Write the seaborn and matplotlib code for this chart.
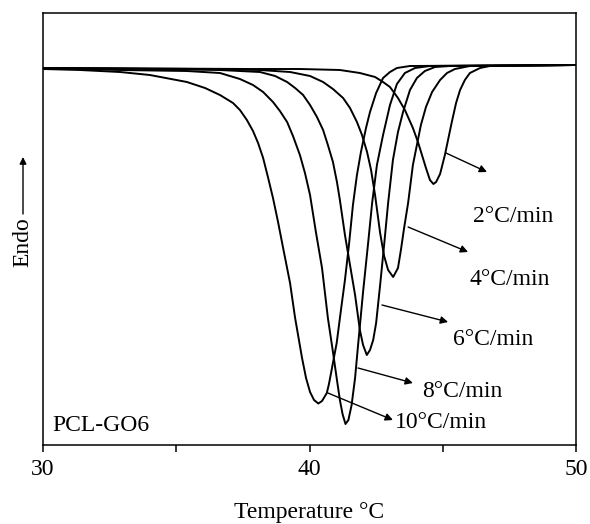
import numpy as np
import pandas as pd
import matplotlib
matplotlib.use("Agg")
import matplotlib.pyplot as plt
from matplotlib.ticker import FixedLocator
import seaborn as sns

# ---- data (temperature in °C, heat flow in arbitrary units, endo up) ----
rates = ["10°C/min", "8°C/min", "6°C/min", "4°C/min", "2°C/min"]

t_10 = [30.00, 31.39, 32.89, 34.01, 35.40, 36.08, 36.64, 37.13, 37.39, 37.65, 37.88, 38.07,
        38.26, 38.44, 38.63, 38.82, 39.01, 39.27, 39.46, 39.72, 39.87, 40.02, 40.17, 40.33,
        40.47, 40.65, 40.73, 40.83, 41.02, 41.18, 41.33, 41.48, 41.63, 41.78, 41.93, 42.12,
        42.27, 42.50, 42.76, 43.02, 43.28, 43.77, 50.00]
h_10 = [-0.04, -0.05, -0.07, -0.10, -0.17, -0.23, -0.30, -0.38, -0.45, -0.55, -0.66, -0.78,
        -0.93, -1.12, -1.33, -1.57, -1.83, -2.18, -2.53, -2.93, -3.13, -3.27, -3.35, -3.385,
        -3.36, -3.28, -3.19, -3.05, -2.78, -2.45, -2.15, -1.80, -1.40, -1.10, -0.87, -0.63,
        -0.47, -0.28, -0.13, -0.07, -0.03, -0.01, 0.00]

t_8 = [30.00, 32.89, 35.40, 36.64, 37.39, 37.88, 38.26, 38.63, 38.89, 39.16, 39.38, 39.64,
       39.83, 40.02, 40.24, 40.47, 40.69, 40.88, 41.03, 41.14, 41.24, 41.35, 41.46, 41.58,
       41.71, 41.83, 42.01, 42.20, 42.35, 42.53, 42.76, 43.02, 43.28, 43.58, 43.96, 44.52, 50.00]
h_8 = [-0.03, -0.05, -0.06, -0.08, -0.14, -0.20, -0.27, -0.37, -0.46, -0.57, -0.71, -0.90,
       -1.08, -1.30, -1.67, -2.03, -2.53, -2.87, -3.15, -3.35, -3.49, -3.59, -3.55, -3.40,
       -3.13, -2.78, -2.27, -1.78, -1.38, -1.00, -0.70, -0.40, -0.19, -0.08, -0.03, -0.01, 0.00]

t_6 = [30.00, 34.01, 36.64, 38.14, 38.71, 39.16, 39.46, 39.76, 40.02, 40.28, 40.51, 40.69,
       40.88, 41.03, 41.14, 41.33, 41.52, 41.71, 41.89, 42.01, 42.15, 42.27, 42.39, 42.50,
       42.65, 42.80, 42.95, 43.13, 43.32, 43.51, 43.77, 44.03, 44.33, 44.71, 45.27, 50.00]
h_6 = [-0.03, -0.04, -0.05, -0.07, -0.11, -0.17, -0.23, -0.30, -0.40, -0.52, -0.65, -0.80,
       -0.97, -1.17, -1.35, -1.70, -2.00, -2.30, -2.65, -2.80, -2.90, -2.85, -2.75, -2.58,
       -2.20, -1.80, -1.38, -0.95, -0.67, -0.47, -0.25, -0.13, -0.06, -0.02, -0.01, 0.00]

t_4 = [30.00, 35.89, 38.14, 39.27, 40.02, 40.51, 40.88, 41.26, 41.52, 41.78, 41.97, 42.16,
       42.31, 42.46, 42.65, 42.80, 42.95, 43.14, 43.32, 43.43, 43.55, 43.70, 43.88, 44.03,
       44.18, 44.37, 44.60, 44.90, 45.16, 45.46, 46.02, 50.00]
h_4 = [-0.03, -0.04, -0.05, -0.07, -0.11, -0.17, -0.24, -0.33, -0.43, -0.57, -0.70, -0.87,
       -1.05, -1.30, -1.68, -1.91, -2.05, -2.12, -2.03, -1.85, -1.63, -1.38, -1.00, -0.80,
       -0.60, -0.42, -0.27, -0.15, -0.08, -0.04, -0.01, 0.00]

t_2 = [30.00, 37.77, 39.64, 41.14, 41.89, 42.46, 42.76, 43.02, 43.32, 43.58, 43.88, 44.07,
       44.22, 44.37, 44.52, 44.65, 44.75, 44.90, 45.08, 45.34, 45.50, 45.65, 45.83, 46.02,
       46.40, 46.77, 50.00]
h_2 = [-0.03, -0.04, -0.04, -0.05, -0.08, -0.12, -0.17, -0.22, -0.33, -0.45, -0.63, -0.77,
       -0.90, -1.03, -1.15, -1.19, -1.17, -1.09, -0.90, -0.57, -0.38, -0.25, -0.15, -0.08,
       -0.03, -0.01, 0.00]

# label annotations: arrow tail (on curve), arrow head, text anchor
arrow_tail = [(40.69, -3.28), (41.82, -3.03), (42.72, -2.40), (43.70, -1.62), (45.12, -0.88)]
arrow_head = [(43.13, -3.55), (43.88, -3.18), (45.20, -2.57), (45.95, -1.87), (46.66, -1.07)]
label_pos = [(43.21, -3.57), (44.22, -3.26), (45.38, -2.74), (46.02, -2.14), (46.13, -1.51)]

x_ticks = [30, 40, 50]
x_tick_labels = ["30", "40", "50"]
x_minor = [35, 45]

sample_name = "PCL-GO6"

# ---- build table ----
series = [(t_10, h_10), (t_8, h_8), (t_6, h_6), (t_4, h_4), (t_2, h_2)]
frames = []
for name, (t, h) in zip(rates, series):
    frames.append(pd.DataFrame({"T": t, "H": h, "rate": name}))
df = pd.concat(frames, ignore_index=True)

# ---- style ----
sns.set_theme(style="white")
plt.rcParams["font.family"] = ["Liberation Serif", "DejaVu Serif"]
FS = 17

fig = plt.figure(figsize=(5.90, 5.24), dpi=100)
ax = fig.add_axes([43 / 590, 1 - 445 / 524, (576 - 43) / 590, (445 - 13) / 524])

sns.lineplot(data=df, x="T", y="H", units="rate", estimator=None, sort=False,
             color="black", lw=1.4, ax=ax, legend=False,
             solid_joinstyle="round", solid_capstyle="round")

ax.set_xlim(30, 50)
ax.set_ylim(-3.80, 0.52)

ax.xaxis.set_major_locator(FixedLocator(x_ticks))
ax.set_xticklabels(x_tick_labels)
ax.xaxis.set_minor_locator(FixedLocator(x_minor))
ax.set_yticks([])
ax.tick_params(axis="x", which="both", direction="out", length=5, width=1.1,
               color="black", labelsize=FS, labelcolor="black", pad=5, bottom=True)

for sp in ax.spines.values():
    sp.set_visible(True)
    sp.set_color("black")
    sp.set_linewidth(1.1)

ax.set_xlabel("Temperature °C", fontsize=FS, color="black")
ax.xaxis.set_label_coords(0.5, -0.131)
ax.set_ylabel("")

# rate labels with arrows
for name, tail, head, pos in zip(rates, arrow_tail, arrow_head, label_pos):
    ax.annotate("", xy=head, xytext=tail,
                arrowprops=dict(arrowstyle="-|>", color="black", lw=1.0,
                                mutation_scale=11, shrinkA=0, shrinkB=0))
    ax.text(pos[0], pos[1], name, fontsize=FS, color="black", ha="left", va="center")

ax.text(30.34, -3.60, sample_name, fontsize=FS, color="black", ha="left", va="center")

# "Endo" with upward arrow
fig.text(23 / 590, 1 - 242.5 / 524, "Endo", rotation=90, fontsize=FS, color="black",
         ha="center", va="center")
ax.annotate("", xy=(23 / 590, 1 - 157 / 524), xytext=(23 / 590, 1 - 214 / 524),
            xycoords="figure fraction", textcoords="figure fraction",
            arrowprops=dict(arrowstyle="-|>", color="black", lw=1.0,
                            mutation_scale=10, shrinkA=0, shrinkB=0))

fig.savefig("out.png", dpi=100, facecolor="white")
